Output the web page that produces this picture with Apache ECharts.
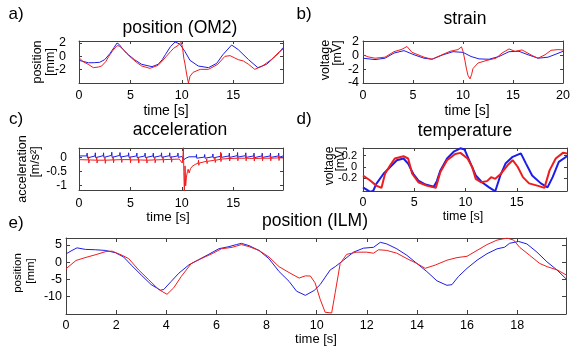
<!DOCTYPE html>
<html>
<head>
<meta charset="utf-8">
<script src="https://cdn.jsdelivr.net/npm/echarts@6/dist/echarts.min.js"></script>
<style>
  html, body { margin: 0; background: #fff; }
  #chart { width: 573px; height: 355px; }
</style>
</head>
<body>
<div id="chart"></div>
<script>
// ---- data: [time s, value] ----
const aBlue = [[0,-0.6],[0.5,-0.8],[0.94,-0.97],[1.5,-0.95],[2.0,-0.9],[2.5,-0.5],[3.0,0.4],[3.4,1.3],[3.7,2.0],[3.9,1.8],[4.3,1.0],[4.8,0.25],[5.4,-0.5],[6.1,-1.2],[7.1,-1.55],[7.7,-1.2],[8.1,-0.5],[8.4,0.25],[8.9,1.45],[9.35,2.15],[9.8,1.85],[10.3,0.75],[10.8,-0.6],[11.6,-1.45],[12.6,-1.7],[13.4,-1.05],[14.0,0.25],[14.5,1.1],[14.85,1.7],[15.5,1.0],[16.5,-0.5],[17.4,-1.7],[18.25,-1.2],[19.1,0],[19.5,0.6],[19.85,1.3]];
const aRed = [[0,-0.2],[0.4,-0.8],[0.9,-1.2],[1.4,-1.7],[1.9,-1.6],[2.2,-1.45],[2.6,-0.8],[2.9,0],[3.3,0.9],[3.7,1.6],[3.9,1.55],[4.2,1.2],[4.6,0.5],[5.1,-0.25],[5.6,-0.9],[6.1,-1.45],[6.9,-1.8],[7.7,-1.35],[8.1,-0.7],[8.5,0],[8.9,0.7],[9.2,1.2],[9.7,1.7],[9.93,2.1],[10.0,2.3],[10.06,1.5],[10.2,-0.3],[10.3,-1.0],[10.4,-2.0],[10.55,-3.3],[10.65,-4.0],[10.8,-3.0],[11.1,-2.4],[11.8,-1.95],[12.6,-1.95],[13.5,-1.2],[14.2,0],[14.7,0.1],[15.1,-0.2],[15.5,-0.5],[16.0,-0.7],[16.5,-1.2],[17.1,-1.95],[17.8,-1.5],[18.7,-0.5],[19.5,0.7],[19.85,1.1]];

const bBlue = [[0,-0.4],[1.2,-0.6],[2.2,-0.4],[3.1,0.35],[4.1,0.7],[5.1,0.1],[6.1,-0.4],[6.9,-0.55],[8.0,0.1],[9.0,0.55],[10.0,0.45],[10.8,-0.15],[11.6,-0.5],[12.6,-0.55],[13.6,-0.15],[14.6,0.55],[15.6,0.6],[16.5,0.1],[17.5,-0.4],[18.5,-0.25],[19.3,0.2],[20,0.6]];
const bRed = [[0,0.1],[0.5,-0.2],[1.2,-0.4],[2.2,-0.25],[3.1,0.55],[3.9,0.9],[4.4,1.3],[4.9,0.45],[5.5,0.1],[6.1,-0.25],[6.9,-0.55],[7.9,0.1],[8.7,0.6],[9.5,0.85],[9.85,1.25],[10.0,0.6],[10.2,-0.8],[10.35,-2.0],[10.5,-2.9],[10.7,-3.4],[10.85,-2.8],[11.0,-1.9],[11.5,-1.1],[12.3,-0.75],[13.3,-0.4],[13.9,0.35],[14.6,0.95],[15.2,0.6],[15.9,0.8],[16.9,0],[17.5,-0.4],[18.2,0.1],[18.8,0.75],[19.5,0.85],[20,0.8]];

const cBlue = [[0,0.05],[0.76,0.05],[0.79,0.15],[0.82,-0.02],[0.86,0.05],[1.56,0.05],[1.59,0.16],[1.62,-0.01],[1.66,0.06],[2.36,0.06],[2.39,0.16],[2.42,0],[2.46,0.06],[3.16,0.07],[3.19,0.18],[3.22,0],[3.26,0.07],[3.96,0.07],[3.99,0.17],[4.02,0.01],[4.06,0.07],[4.8,0.06],[4.83,0.16],[4.86,0],[4.9,0.06],[5.6,0.05],[5.63,0.15],[5.66,-0.01],[5.7,0.05],[6.4,0.05],[6.43,0.15],[6.46,-0.01],[6.5,0.05],[7.2,0.05],[7.23,0.15],[7.26,0],[7.3,0.06],[8.0,0.06],[8.03,0.16],[8.06,0],[8.1,0.06],[8.8,0.06],[8.83,0.16],[8.86,0],[8.9,0.06],[9.6,0.05],[9.63,0.15],[9.66,0],[9.7,0.05],[10.0,0.03],[10.2,-0.08],[10.4,-0.03],[10.7,0.02],[11.4,0.02],[11.43,0.1],[11.46,-0.03],[11.5,0.02],[12.2,0.01],[12.23,0.1],[12.26,-0.03],[12.3,0.01],[13.0,0.02],[13.03,0.12],[13.06,-0.02],[13.1,0.03],[13.8,0.04],[13.83,0.14],[13.86,0],[13.9,0.05],[14.6,0.05],[14.63,0.15],[14.66,0],[14.7,0.05],[15.4,0.06],[15.43,0.17],[15.46,0.01],[15.5,0.06],[16.2,0.06],[16.23,0.16],[16.26,0],[16.3,0.05],[17.0,0.05],[17.03,0.15],[17.06,-0.01],[17.1,0.05],[17.8,0.05],[17.83,0.15],[17.86,0],[17.9,0.05],[18.6,0.05],[18.63,0.15],[18.66,0],[18.7,0.05],[19.4,0.05],[19.43,0.15],[19.46,0],[19.5,0.05],[19.85,0.05]];
const cRed = [[0,-0.08],[0.9,-0.09],[0.93,0.02],[0.96,-0.2],[1.0,-0.09],[1.7,-0.1],[1.73,0],[1.76,-0.2],[1.8,-0.1],[2.5,-0.1],[2.53,0],[2.56,-0.21],[2.6,-0.1],[3.3,-0.09],[3.33,0.02],[3.36,-0.19],[3.4,-0.09],[4.1,-0.08],[4.13,0.03],[4.16,-0.18],[4.2,-0.08],[4.95,-0.08],[4.98,0.02],[5.01,-0.19],[5.05,-0.09],[5.75,-0.09],[5.78,0.01],[5.81,-0.2],[5.85,-0.09],[6.55,-0.1],[6.58,0],[6.61,-0.2],[6.65,-0.1],[7.35,-0.09],[7.38,0.01],[7.41,-0.19],[7.45,-0.09],[8.15,-0.08],[8.18,0.02],[8.21,-0.18],[8.25,-0.08],[8.95,-0.07],[8.98,0.03],[9.01,-0.17],[9.05,-0.07],[9.75,-0.06],[9.9,-0.08],[10.05,-0.2],[10.12,0.1],[10.16,0.35],[10.2,-0.5],[10.25,-1.2],[10.32,-0.3],[10.38,-1.0],[10.45,-0.7],[10.55,-0.5],[10.62,-0.42],[10.72,-0.55],[10.85,-0.4],[11.0,-0.32],[11.3,-0.25],[11.6,-0.2],[11.63,-0.1],[11.66,-0.28],[11.7,-0.2],[12.4,-0.14],[12.43,-0.05],[12.46,-0.22],[12.5,-0.14],[13.2,-0.1],[13.23,0],[13.26,-0.18],[13.3,-0.1],[13.75,-0.07],[13.78,0.18],[13.81,-0.15],[13.85,-0.06],[14.6,-0.04],[14.63,0.05],[14.66,-0.13],[14.7,-0.04],[15.4,-0.03],[15.43,0.06],[15.46,-0.12],[15.5,-0.03],[16.2,-0.03],[16.23,0.06],[16.26,-0.12],[16.3,-0.03],[17.0,-0.04],[17.03,0.05],[17.06,-0.13],[17.1,-0.04],[17.8,-0.03],[17.83,0.06],[17.86,-0.12],[17.9,-0.03],[18.6,-0.03],[18.63,0.06],[18.66,-0.12],[18.7,-0.03],[19.4,-0.02],[19.43,0.07],[19.46,-0.11],[19.5,-0.02],[19.85,-0.02]];

const dBlue = [[0,-0.36],[0.35,-0.4],[0.7,-0.44],[1.0,-0.42],[1.3,-0.3],[2.0,-0.12],[2.65,0],[3.3,0.12],[3.95,0.15],[4.4,0.06],[4.9,-0.12],[5.4,-0.24],[6.1,-0.31],[6.9,-0.35],[7.2,-0.25],[7.55,-0.06],[8.2,0.15],[8.85,0.27],[9.5,0.33],[9.9,0.31],[10.5,0.06],[11.0,-0.15],[11.6,-0.27],[12.3,-0.36],[12.9,-0.43],[13.4,-0.15],[13.9,0.06],[14.6,0.18],[15.4,0.24],[15.9,0.06],[16.5,-0.15],[17.35,-0.29],[18.0,-0.36],[18.5,-0.18],[19.1,0.09],[19.9,0.19]];
const dRed = [[0,-0.15],[0.7,-0.24],[1.3,-0.33],[1.8,-0.37],[2.15,-0.12],[2.65,0.03],[3.1,0.15],[3.95,0.19],[4.4,0.15],[4.8,-0.12],[5.4,-0.27],[6.2,-0.33],[7.1,-0.37],[7.55,-0.09],[8.2,0.12],[9.0,0.23],[9.5,0.25],[10.2,0.15],[10.65,0],[11.0,-0.21],[11.5,-0.27],[12.1,-0.25],[12.5,-0.18],[12.9,-0.21],[13.4,-0.13],[14.1,0.03],[14.6,0.12],[15.1,0],[15.6,-0.18],[16.2,-0.29],[17.0,-0.33],[17.7,-0.37],[18.2,-0.06],[18.8,0.15],[19.5,0.25],[19.9,0.24]];

const eBlue = [[0,2.4],[0.24,3.4],[0.44,4.15],[0.77,3.7],[1.17,3.6],[1.57,3.4],[1.97,2.75],[2.3,1.5],[2.6,-0.8],[3.0,-3.7],[3.4,-6.5],[3.77,-8.1],[3.9,-7.9],[4.2,-5.55],[4.5,-3.2],[4.9,-0.8],[5.3,0.76],[5.7,2.3],[6.1,3.9],[6.5,4.5],[6.8,5.1],[7.0,5.45],[7.3,4.8],[7.7,3.4],[8.1,1.0],[8.5,-2.7],[8.9,-5.55],[9.2,-8.4],[9.55,-9.6],[9.9,-8.2],[10.14,-6.5],[10.54,-2.25],[10.74,-1.3],[11.07,0.57],[11.47,2.9],[11.87,4.06],[12.27,4.3],[12.54,5.75],[12.8,5.28],[13.2,3.87],[13.6,2.0],[14.0,-0.37],[14.4,-2.73],[14.8,-5.4],[15.2,-6.7],[15.4,-6.5],[15.66,-4.13],[16.0,-1.78],[16.4,0.57],[16.8,2.46],[17.2,3.87],[17.5,4.34],[17.7,5.47],[18.06,6.0],[18.39,5.28],[18.79,2.92],[19.19,0.1],[19.59,-2.25],[19.95,-4.8]];
const eRed = [[0,-1.9],[0.4,0.5],[0.8,1.4],[1.2,2.2],[1.6,3.1],[1.84,3.2],[2.24,2.0],[2.5,1.04],[2.9,-2.25],[3.3,-5.07],[3.7,-7.9],[4.03,-9.3],[4.3,-7.4],[4.6,-4.13],[5.0,-0.37],[5.4,1.04],[5.83,2.46],[6.2,3.87],[6.63,4.3],[7.0,5.1],[7.3,4.5],[7.7,3.4],[8.1,1.5],[8.5,-1.3],[8.9,-3.0],[9.3,-4.6],[9.55,-3.96],[9.75,-4.0],[9.94,-6.0],[10.14,-10.7],[10.34,-14.5],[10.6,-14.7],[10.74,-8.85],[10.94,-0.37],[11.2,2.27],[11.6,2.9],[12.0,2.9],[12.27,2.6],[12.47,3.6],[12.8,3.4],[13.2,2.6],[13.6,1.04],[14.0,-0.37],[14.33,-1.78],[14.73,-0.84],[15.2,0.57],[15.6,1.32],[16.0,1.7],[16.4,3.4],[16.8,5.1],[17.2,6.4],[17.6,6.97],[17.86,6.4],[18.1,4.3],[18.5,1.99],[18.9,-0.37],[19.2,-1.3],[19.6,-2.25],[19.95,-3.66]];

// ---- tick positions ----
const ticks5 = [0, 5, 10, 15];
const ticks5to20 = [0, 5, 10, 15, 20];
const ticks2 = [0, 2, 4, 6, 8, 10, 12, 14, 16, 18];
const aYTicks = [-2, 0, 2];
const bYTicks = [-4, -2, 0, 2];
const cYTicks = [-1, -0.5, 0];
const dYTicks = [-0.2, 0, 0.2];
const eYTicks = [-10, -5, 0, 5];

const FONT = '"Liberation Sans", Arial, Helvetica, sans-serif';
const AXIS = '#404040';
const RED = '#ee1d1d';
const BLUE = '#1d1de8';

const panels = [
  { grid: { left: 79, top: 41, width: 204, height: 42 }, x: [0, 19.85], y: [-4, 2.3], xt: ticks5, yt: aYTicks, xm: 6, ym: 13, fs: 12.5, yfs: 12.5, tick: 3, lw: 1, blue: aBlue, red: aRed },
  { grid: { left: 363, top: 41, width: 204, height: 42 }, x: [0, 20], y: [-4, 2.1], xt: ticks5to20, yt: bYTicks, xm: 6, ym: 4, fs: 12.5, yfs: 12.5, tick: 3, lw: 1, blue: bBlue, red: bRed },
  { grid: { left: 79, top: 148, width: 204, height: 42 }, x: [0, 19.85], y: [-1.15, 0.33], xt: ticks5, yt: cYTicks, xm: 7, ym: 12, fs: 12.5, yfs: 12, tick: 3, lw: 1, blue: cBlue, red: cRed },
  { grid: { left: 363, top: 148, width: 204, height: 43 }, x: [0, 19.9], y: [-0.425, 0.336], xt: ticks5, yt: dYTicks, xm: 5, ym: 6, fs: 12.5, yfs: 11, tick: 3, lw: 2, blue: dBlue, red: dRed },
  { grid: { left: 66, top: 238, width: 500, height: 76 }, x: [0, 19.95], y: [-15, 7], xt: ticks2, yt: eYTicks, xm: 5, ym: 4, fs: 12.5, yfs: 12.5, tick: 4, lw: 1, blue: eBlue, red: eRed }
];

const grid = [], xAxis = [], yAxis = [], series = [];
panels.forEach((p, i) => {
  grid.push(p.grid);
  const line = { show: true, onZero: false, lineStyle: { color: AXIS, width: 1 } };
  const tickX = { show: true, inside: true, length: p.tick, customValues: p.xt, lineStyle: { color: AXIS } };
  const tickY = { show: true, inside: true, length: p.tick, customValues: p.yt, lineStyle: { color: AXIS } };
  const base = { type: 'value', gridIndex: i, splitLine: { show: false }, axisLine: line };
  const lbl = (vals, m, fs) => ({
    customValues: vals, margin: m, fontSize: fs, color: '#000', fontFamily: FONT,
    hideOverlap: false, showMinLabel: true, showMaxLabel: true
  });
  xAxis.push(Object.assign({}, base, {
    position: 'bottom', min: p.x[0], max: p.x[1], axisTick: tickX, axisLabel: lbl(p.xt, p.xm, p.fs)
  }));
  xAxis.push(Object.assign({}, base, {
    position: 'top', min: p.x[0], max: p.x[1], axisTick: tickX, axisLabel: { show: false }
  }));
  yAxis.push(Object.assign({}, base, {
    position: 'left', min: p.y[0], max: p.y[1], axisTick: tickY, axisLabel: lbl(p.yt, p.ym, p.yfs)
  }));
  yAxis.push(Object.assign({}, base, {
    position: 'right', min: p.y[0], max: p.y[1], axisTick: tickY, axisLabel: { show: false }
  }));
  [[p.blue, BLUE], [p.red, RED]].forEach(([data, color]) => {
    series.push({
      type: 'line', xAxisIndex: i * 2, yAxisIndex: i * 2, data: data,
      showSymbol: false, clip: true, silent: true,
      lineStyle: { color: color, width: p.lw }, itemStyle: { color: color }
    });
  });
});

function txt(text, x, y, size, rot) {
  return {
    type: 'text', x: x, y: y, rotation: rot || 0, silent: true,
    style: { text: text, fill: '#000', font: size + 'px ' + FONT, align: 'center', verticalAlign: 'middle' }
  };
}
const R = Math.PI / 2;
const graphic = [
  txt('a)', 16, 14, 17), txt('b)', 304, 14, 17), txt('c)', 16, 119, 17), txt('d)', 304, 119, 17), txt('e)', 16, 223, 17),
  txt('position (OM2)', 180, 28, 17.5), txt('strain', 465, 19, 17.5),
  txt('acceleration', 180, 130, 17.5), txt('temperature', 465, 131, 17.5),
  txt('position (ILM)', 315, 221, 17.5),
  txt('time [s]', 166, 111, 14), txt('time [s]', 467, 111, 14),
  txt('time [s]', 168, 217, 13.5), txt('time [s]', 463, 217, 12.5),
  txt('time [s]', 316, 339, 13),
  txt('position', 38, 62, 12.5, R), txt('[mm]', 51, 62, 12.5, R),
  txt('voltage', 326, 60, 12.5, R), txt('[mV]', 338, 53, 12.5, R),
  txt('acceleration', 23, 169, 12.5, R), txt('[m/s²]', 36, 162, 12.5, R),
  txt('voltage', 330, 166, 12, R), txt('[mV]', 341, 159, 12, R),
  txt('position', 18, 273, 11.5, R), txt('[mm]', 31, 271, 11.5, R)
];

const chart = echarts.init(document.getElementById('chart'), null, { renderer: 'canvas' });
chart.setOption({
  animation: false,
  backgroundColor: '#fff',
  grid: grid,
  xAxis: xAxis,
  yAxis: yAxis,
  series: series,
  graphic: graphic
});
</script>
</body>
</html>
